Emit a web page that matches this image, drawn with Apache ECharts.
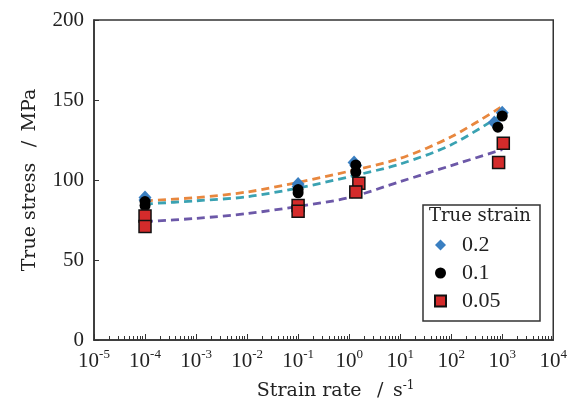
<!DOCTYPE html>
<html>
<head>
<meta charset="utf-8">
<script src="https://cdn.jsdelivr.net/npm/echarts@6/dist/echarts.min.js"></script>
<style>html,body{margin:0;padding:0;background:#fff;}#c{width:570px;height:407px;}</style>
</head>
<body>
<div id="c"></div>
<script>
// ---- data ----
const decadeExps = [-5, -4, -3, -2, -1, 0, 1, 2, 3, 4];
const legendTitle = 'True strain';
const strainNames = ['0.2', '0.1', '0.05'];
const xName = 'Strain rate \u2002/\u2002s';
const yName = 'True stress \u2002/\u2002MPa';

// measured points: strain rate (s^-1) and true stress (MPa)
const rate02 = [1e-4, 1e-4, 0.1, 0.1, 1.25, 1.35, 700, 1000];
const stress02 = [89, 87.5, 97.5, 96, 111, 109, 136, 142];
const rate01 = [1e-4, 1e-4, 0.1, 0.1, 1.35, 1.35, 820, 1000];
const stress01 = [86.5, 84, 94, 92, 109.4, 105, 133, 140];
const rate005 = [1e-4, 1e-4, 0.1, 0.1, 1.55, 1.35, 1050, 850];
const stress005 = [77.5, 71, 84, 80.5, 98, 92.5, 123, 111];

// fitted curves
const fitRates = [1e-4, 1e-3, 1e-2, 1e-1, 1, 10, 100, 1000];
const fitOrange = [87, 89, 92.5, 98.5, 105.5, 113.5, 127, 146];
const fitTeal = [85, 87, 89.5, 95, 102, 110, 122, 141];
const fitPurple = [74, 76, 79, 83.5, 89, 99, 109, 119];

// ---- build ----
const lg = v => Math.log10(v);
const pairs = (xs, ys) => xs.map((x, i) => [lg(x), ys[i]]);
const minorTicks = [];
for (let e = -5; e < 4; e++) for (let k = 2; k <= 9; k++) minorTicks.push(e + Math.log10(k));

const FONT = 'Liberation Serif';
const WFONT = 'DejaVu Serif';
const TXT = '#222';
const chart = echarts.init(document.getElementById('c'), null, {renderer: 'canvas'});
const dash = [8, 5];

chart.setOption({
  animation: false,
  backgroundColor: '#fff',
  grid: {left: 94, right: 13, top: 20, bottom: 67, show: true, borderColor: '#333', borderWidth: 1.5, backgroundColor: 'transparent'},
  xAxis: [{
    type: 'value', min: -5, max: 4, interval: 1,
    axisLine: {show: true, onZero: false, lineStyle: {color: '#333', width: 1.5}},
    axisTick: {show: true, inside: true, length: 6, lineStyle: {color: '#333', width: 1}},
    splitLine: {show: false},
    axisLabel: {
      margin: 8, color: TXT, fontFamily: FONT,
      formatter: v => '{b|10}{s|' + v + '}',
      rich: {b: {fontSize: 21, fontFamily: FONT, color: TXT, lineHeight: 24, verticalAlign: 'bottom'},
             s: {fontSize: 13, fontFamily: FONT, color: TXT, lineHeight: 24, verticalAlign: 'top'}}
    },
    name: xName + '{s|-1}', nameLocation: 'middle', nameGap: 40,
    nameTextStyle: {fontFamily: WFONT, fontSize: 19, color: TXT, padding: [0, 0, 0, 24],
      rich: {s: {fontSize: 12, fontFamily: WFONT, color: TXT, verticalAlign: 'top', lineHeight: 22}}}
  }, {
    type: 'value', min: -5, max: 4, position: 'bottom', gridIndex: 0,
    axisLine: {show: false, onZero: false},
    axisTick: {show: true, inside: true, length: 4, customValues: minorTicks, lineStyle: {color: '#333', width: 1}},
    axisLabel: {show: false},
    splitLine: {show: false}
  }],
  yAxis: {
    type: 'value', min: 0, max: 200, interval: 50,
    axisLine: {show: true, onZero: false, lineStyle: {color: '#333', width: 1.5}},
    axisTick: {show: true, inside: true, length: 5, lineStyle: {color: '#333', width: 1}},
    splitLine: {show: false},
    axisLabel: {margin: 10, color: TXT, fontFamily: FONT, fontSize: 21},
    name: yName, nameLocation: 'middle', nameGap: 54,
    nameTextStyle: {fontFamily: WFONT, fontSize: 19, color: TXT}
  },
  legend: {
    data: strainNames, orient: 'vertical', left: 429, top: 229, z: 100,
    itemWidth: 11, itemHeight: 11, itemGap: 6,
    textStyle: {fontFamily: FONT, fontSize: 22, color: TXT, padding: [0, 0, 0, 11]}
  },
  graphic: [
    {type: 'rect', shape: {x: 423, y: 205, width: 117, height: 116}, style: {fill: '#fff', stroke: '#333', lineWidth: 1.5}, z: 1},
    {type: 'text', x: 429, y: 207, style: {text: legendTitle, font: '18px "' + WFONT + '"', fill: TXT}, z: 2}
  ],
  series: [
    {type: 'line', xAxisIndex: 0, data: pairs(fitRates, fitOrange), smooth: 0.3, symbol: 'none', lineStyle: {color: '#E8873E', width: 2.8, type: dash}, z: 2, silent: true},
    {type: 'line', xAxisIndex: 0, data: pairs(fitRates, fitTeal), smooth: 0.3, symbol: 'none', lineStyle: {color: '#3AA2B2', width: 2.8, type: dash}, z: 2, silent: true},
    {type: 'line', xAxisIndex: 0, data: pairs(fitRates, fitPurple), smooth: 0.3, symbol: 'none', lineStyle: {color: '#6C58A8', width: 2.8, type: dash}, z: 2, silent: true},
    {name: strainNames[0], type: 'scatter', xAxisIndex: 0, data: pairs(rate02, stress02), symbol: 'diamond', symbolSize: [13, 14], itemStyle: {color: '#3A7FC1', opacity: 1}, z: 3},
    {name: strainNames[1], type: 'scatter', xAxisIndex: 0, data: pairs(rate01, stress01), symbol: 'circle', symbolSize: 11, itemStyle: {color: '#000', opacity: 1}, z: 4},
    {name: strainNames[2], type: 'scatter', xAxisIndex: 0, data: pairs(rate005, stress005), symbol: 'rect', symbolSize: 12, itemStyle: {color: '#D42B2B', borderColor: '#111', borderWidth: 1.5, opacity: 1}, z: 5}
  ]
});
</script>
</body>
</html>
